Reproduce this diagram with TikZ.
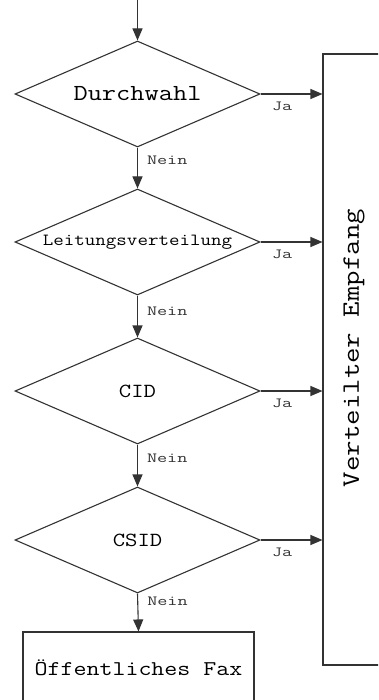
\documentclass[tikz,border=0pt]{standalone}
\usepackage{fontspec}
\usepackage{graphicx}
\usetikzlibrary{arrows.meta,shapes.geometric}
\newcommand\tsize[1]{\ttfamily\fontsize{#1}{#1}\selectfont}
\newcommand\wide[2][1.2]{\scalebox{#1}[1]{#2}}

\begin{document}
\begin{tikzpicture}[x=1pt,y=-1pt,>={Triangle[length=12pt,width=10pt]},
    line width=1.1pt,
    decision/.style={draw=black!80,diamond,aspect=2.31,inner sep=0pt,
        minimum width=245pt,minimum height=106pt},
    answer/.style={font=\tsize{14},inner sep=1pt}]
            % page
            \clip (0,0) rectangle (378,700);
            \fill[white] (0,0) rectangle (378,700);
            % draw decisions
            \node[decision,font=\tsize{23}] (durch) at (137.5,94) {\wide{Durchwahl}};
            \node[decision,font=\tsize{17}] (leit)  at (137.5,242) {\wide{Leitungsverteilung}};
            \node[decision,font=\tsize{20}] (cid)   at (137.5,391) {\wide{CID}};
            \node[decision,font=\tsize{20}] (csid)  at (137.5,540) {\wide{CSID}};
            % draw boxes
            \node[draw=black!80,minimum width=231pt,minimum height=72pt,
                  font=\tsize{21}] (fax) at (138.5,668) {\wide{Öffentliches Fax}};
            \node[draw=black!80,minimum width=77pt,minimum height=611pt] (verteilt)
                  at (361.5,359.5) {};
            \node[rotate=90,font=\tsize{25}] (empf)
                  at (354,348) {\wide{Verteilter Empfang}};
            % draw flow
            \coordinate (start) at (137.5,-5);
            \draw[->,black!80] (start) -- (durch.north);
            \draw[->,black!80] (durch.south) -- node[answer,right=8pt,pos=0.3] {\wide[1.4]{Nein}} (leit.north);
            \draw[->,black!80] (leit.south) -- node[answer,right=8pt,pos=0.37] {\wide[1.4]{Nein}} (cid.north);
            \draw[->,black!80] (cid.south) -- node[answer,right=8pt,pos=0.33] {\wide[1.4]{Nein}} (csid.north);
            \draw[->,black!80] (csid.south) -- node[answer,right=8pt,pos=0.2] {\wide[1.4]{Nein}} (fax.north);
            % draw yes branches
            \foreach \d in {durch,leit,cid,csid}
              \draw[->,black!80] (\d.east) -- node[answer,below=6pt,pos=0.35] {\wide[1.4]{Ja}}
                    (\d.east -| verteilt.west);
          \end{tikzpicture}
\end{document}
